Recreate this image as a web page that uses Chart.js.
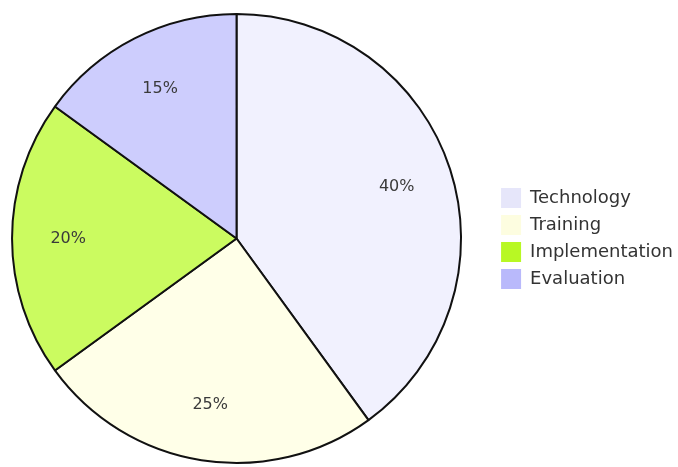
<!DOCTYPE html>
<html>
<head>
<meta charset="utf-8">
<script src="https://cdn.jsdelivr.net/npm/chart.js@4/dist/chart.umd.min.js"></script>
<style>
html,body{margin:0;padding:0;background:#fff;}
#wrap{width:678px;height:467px;position:relative;}
</style>
</head>
<body>
<div id="wrap"><canvas id="c" width="678" height="467"></canvas></div>
<script>
const categories = ["Technology", "Training", "Implementation", "Evaluation"];
const values = [40, 25, 20, 15];
const sliceColors = ["#f1f1fe", "#ffffe8", "#cbfb60", "#cdcdfd"];
const legendColors = ["#e6e6fa", "#fdfde0", "#b8f824", "#b9b9fb"];

const FONT = "'DejaVu Sans', Verdana, sans-serif";

const pctLabels = {
  id: 'pctLabels',
  afterDatasetsDraw(chart) {
    const ctx = chart.ctx;
    const meta = chart.getDatasetMeta(0);
    const total = values.reduce((a, b) => a + b, 0);
    ctx.save();
    ctx.font = "16px " + FONT;
    ctx.fillStyle = "#3a3a3a";
    ctx.textAlign = "center";
    ctx.textBaseline = "middle";
    meta.data.forEach((arc, i) => {
      const p = arc.getProps(['x', 'y', 'startAngle', 'endAngle', 'outerRadius'], true);
      const mid = (p.startAngle + p.endAngle) / 2;
      const r = p.outerRadius * 0.75;
      const label = Math.round(values[i] / total * 100) + "%";
      ctx.fillText(label, p.x + Math.cos(mid) * r, p.y + Math.sin(mid) * r);
    });
    ctx.restore();
  }
};

// shift the pie area left and the legend right, as in the reference layout
const layoutShift = {
  id: 'layoutShift',
  afterLayout(chart) {
    const ca = chart.chartArea;
    ca.left -= 16;
    ca.width = ca.right - ca.left;
    if (chart.legend) {
      chart.legend.left += 5;
      chart.legend.right += 5;
    }
  }
};

new Chart(document.getElementById('c'), {
  type: 'pie',
  data: {
    labels: categories,
    datasets: [{
      data: values,
      backgroundColor: sliceColors,
      borderColor: "#111111",
      borderWidth: 2,
      borderAlign: 'center'
    }]
  },
  options: {
    responsive: false,
    animation: false,
    layout: { padding: { left: 0, top: 13, right: 0, bottom: 3 } },
    plugins: {
      tooltip: { enabled: false },
      legend: {
        position: 'right',
        labels: {
          boxWidth: 20,
          boxHeight: 20,
          padding: 7,
          color: "#333333",
          font: { family: FONT, size: 18 },
          generateLabels(chart) {
            return categories.map((c, i) => ({
              text: c,
              fillStyle: legendColors[i],
              strokeStyle: legendColors[i],
              lineWidth: 0,
              fontColor: "#333333",
              index: i,
              hidden: false
            }));
          }
        }
      }
    }
  },
  plugins: [pctLabels, layoutShift]
});
</script>
</body>
</html>
